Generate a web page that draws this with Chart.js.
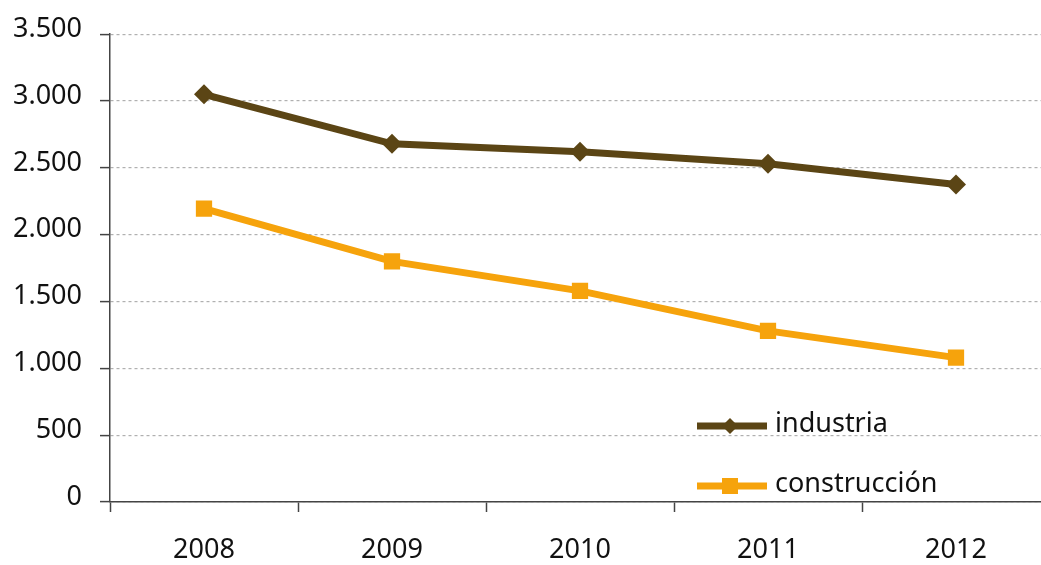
<!DOCTYPE html>
<html>
<head>
<meta charset="utf-8">
<script src="https://cdn.jsdelivr.net/npm/chart.js@4/dist/chart.umd.min.js"></script>
<style>
  body { margin: 0; background: #fff; overflow: hidden; }
  /* plot runs a little past the right edge, like the original */
  #wrap { width: 1050px; height: 565px; position: relative; }
</style>
</head>
<body>
<div id="wrap"><canvas id="myChart"></canvas></div>
<script>
const years = ['2008', '2009', '2010', '2011', '2012'];
const industria = [3050, 2680, 2620, 2530, 2375];
const construccion = [2195, 1800, 1580, 1280, 1080];
const yTicks = [0, 500, 1000, 1500, 2000, 2500, 3000, 3500];

const brown = '#5b4515';
const orange = '#f6a30c';
const fontFam = '"Noto Sans", sans-serif';

function fmt(v) 
{
    return v.toString().replace(/\B(?=(\d{3})+(?!\d))/g, '.');
}

// legend drawn inside the plot, bottom right
const insideLegend = 
{
    id: 'insideLegend',
    afterDraw(chart) 
    {
        const ctx = chart.ctx;
        const items = [
            {label: 'industria', color: brown, style: 'diamond', y: 426},
            {label: 'construcción', color: orange, style: 'square', y: 486}
        ];
        ctx.save();
        items.forEach((it) => 
        {
            ctx.strokeStyle = it.color;
            ctx.fillStyle = it.color;
            ctx.lineWidth = 7;
            ctx.beginPath();
            ctx.moveTo(697, it.y);
            ctx.lineTo(767, it.y);
            ctx.stroke();
            ctx.beginPath();
            if (it.style == 'diamond') 
            {
                ctx.moveTo(730, it.y - 8);
                ctx.lineTo(738, it.y);
                ctx.lineTo(730, it.y + 8);
                ctx.lineTo(722, it.y);
                ctx.closePath();
            }
            else 
            {
                ctx.rect(722, it.y - 8, 16, 16);
            }
            ctx.fill();
            ctx.fillStyle = '#111';
            ctx.font = '27px ' + fontFam;
            ctx.textBaseline = 'middle';
            ctx.textAlign = 'left';
            ctx.fillText(it.label, 775, it.y - 2);
        });
        ctx.restore();
    }
};

new Chart(document.getElementById('myChart'), 
{
    type: 'line',
    data: 
    {
        labels: years,
        datasets: 
        [{
            label: 'industria',
            data: industria,
            borderColor: brown,
            backgroundColor: brown,
            borderWidth: 7,
            pointStyle: 'rectRot',
            pointRadius: 10,
            pointHoverRadius: 10,
            pointBorderWidth: 0,
            tension: 0
        },
        {
            label: 'construcción',
            data: construccion,
            borderColor: orange,
            backgroundColor: orange,
            borderWidth: 7,
            pointStyle: 'rect',
            pointRadius: 11.5,
            pointHoverRadius: 11.5,
            pointBorderWidth: 0,
            tension: 0
        }]
    },
    options: 
    {
        responsive: true,
        maintainAspectRatio: false,
        animation: false,
        layout: {autoPadding: false, padding: {top: 15, right: 0, left: 0, bottom: 0}},
        plugins: {legend: {display: false}, tooltip: {enabled: false}},
        scales: 
        {
            x: 
            {
                offset: true,
                grid: {offset: true, drawOnChartArea: false, tickLength: 10, tickColor: '#444', tickWidth: 1.5},
                border: {color: '#444', width: 1.5},
                ticks: {color: '#111', font: {family: fontFam, size: 27}, padding: 22, maxRotation: 0},
                afterFit: (s) => { s.height = 63; }
            },
            y: 
            {
                min: 0,
                max: 3500,
                afterBuildTicks: (s) => { s.ticks = yTicks.map((v) => ({value: v})); },
                grid: {color: '#b0b0b0', lineWidth: 1.2, tickLength: 10, tickColor: '#444', tickWidth: 1.5},
                border: {color: '#444', width: 1.5, dash: [3, 3]},
                ticks: {color: '#111', font: {family: fontFam, size: 27}, padding: 18, labelOffset: -5, callback: (v) => fmt(v)},
                afterFit: (s) => { s.width = 110; }
            }
        }
    },
    plugins: [insideLegend]
});
</script>
</body>
</html>
